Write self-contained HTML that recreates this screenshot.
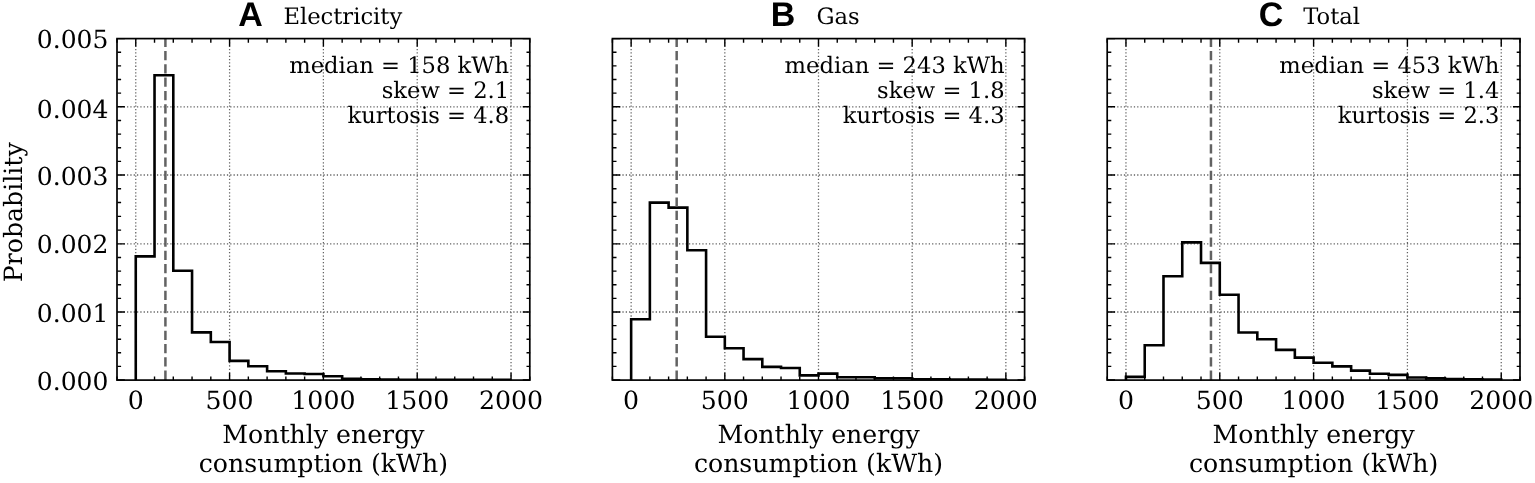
<!DOCTYPE html>
<html><head><meta charset="utf-8"><title>Monthly energy consumption histograms</title>
<style>
html,body{margin:0;padding:0;background:#fff;width:1535px;height:483px;overflow:hidden}
svg{display:block}
text{font-family:"DejaVu Serif","Liberation Serif",serif;fill:#000;text-rendering:geometricPrecision}
.lt{font-family:"Liberation Sans","DejaVu Sans",sans-serif;font-weight:bold}
</style></head><body>
<svg width="1535" height="483" viewBox="0 0 1535 483">
<rect width="1535" height="483" fill="#fff"/>
<defs>
<clipPath id="c0"><rect x="117" y="38.6" width="412.8" height="341.3"/></clipPath>
<clipPath id="c1"><rect x="612.4" y="38.6" width="412.2" height="341.3"/></clipPath>
<clipPath id="c2"><rect x="1107.2" y="38.6" width="412.8" height="341.3"/></clipPath>
</defs>
<g><path d="M135.76 379.9V38.6M229.58 379.9V38.6M323.4 379.9V38.6M417.22 379.9V38.6M511.04 379.9V38.6M117 312H529.8M117 243.9H529.8M117 175H529.8M117 106.8H529.8" fill="none" stroke="#000" stroke-opacity="0.62" stroke-width="1.26" stroke-dasharray="1.26 2.07" clip-path="url(#c0)"/>
<path d="M135.76 379.9V256.4H154.53V75.3H173.29V270.8H192.05V332.4H210.82V342H229.58V360.9H248.35V366.3H267.11V371.2H285.87V373.5H304.64V374H323.4V376.3H342.16V378.8H360.93V379.2H379.69V379.6H398.45V379.7H417.22V379.8H435.98V379.8H454.75V379.9H473.51V379.9H492.27V379.9H511.04V379.9" fill="none" stroke="#000" stroke-width="2.6" stroke-linejoin="miter" clip-path="url(#c0)"/>
<path d="M165.41 379.9V38.6" stroke="#626262" stroke-width="2.5" stroke-dasharray="9.3 4.02" fill="none" clip-path="url(#c0)"/>
<path d="M117 380.3v-3.7M117 39v3.7M135.76 380.3v-7.45M135.76 39v7.45M154.53 380.3v-3.7M154.53 39v3.7M173.29 380.3v-3.7M173.29 39v3.7M192.05 380.3v-3.7M192.05 39v3.7M210.82 380.3v-3.7M210.82 39v3.7M229.58 380.3v-7.45M229.58 39v7.45M248.35 380.3v-3.7M248.35 39v3.7M267.11 380.3v-3.7M267.11 39v3.7M285.87 380.3v-3.7M285.87 39v3.7M304.64 380.3v-3.7M304.64 39v3.7M323.4 380.3v-7.45M323.4 39v7.45M342.16 380.3v-3.7M342.16 39v3.7M360.93 380.3v-3.7M360.93 39v3.7M379.69 380.3v-3.7M379.69 39v3.7M398.45 380.3v-3.7M398.45 39v3.7M417.22 380.3v-7.45M417.22 39v7.45M435.98 380.3v-3.7M435.98 39v3.7M454.75 380.3v-3.7M454.75 39v3.7M473.51 380.3v-3.7M473.51 39v3.7M492.27 380.3v-3.7M492.27 39v3.7M511.04 380.3v-7.45M511.04 39v7.45M529.8 380.3v-3.7M529.8 39v3.7M117.4 379.95h7.45M530.2 379.95h-7.45M117.4 366.36h3.7M530.2 366.36h-3.7M117.4 352.77h3.7M530.2 352.77h-3.7M117.4 339.18h3.7M530.2 339.18h-3.7M117.4 325.59h3.7M530.2 325.59h-3.7M117.4 312h7.45M530.2 312h-7.45M117.4 298.38h3.7M530.2 298.38h-3.7M117.4 284.76h3.7M530.2 284.76h-3.7M117.4 271.14h3.7M530.2 271.14h-3.7M117.4 257.52h3.7M530.2 257.52h-3.7M117.4 243.9h7.45M530.2 243.9h-7.45M117.4 230.12h3.7M530.2 230.12h-3.7M117.4 216.34h3.7M530.2 216.34h-3.7M117.4 202.56h3.7M530.2 202.56h-3.7M117.4 188.78h3.7M530.2 188.78h-3.7M117.4 175h7.45M530.2 175h-7.45M117.4 161.36h3.7M530.2 161.36h-3.7M117.4 147.72h3.7M530.2 147.72h-3.7M117.4 134.08h3.7M530.2 134.08h-3.7M117.4 120.44h3.7M530.2 120.44h-3.7M117.4 106.8h7.45M530.2 106.8h-7.45M117.4 93.16h3.7M530.2 93.16h-3.7M117.4 79.52h3.7M530.2 79.52h-3.7M117.4 65.88h3.7M530.2 65.88h-3.7M117.4 52.24h3.7M530.2 52.24h-3.7M117.4 38.6h7.45M530.2 38.6h-7.45" stroke="#000" stroke-width="1.4" fill="none"/>
<rect x="117" y="38.6" width="412.8" height="341.5" fill="none" stroke="#000" stroke-width="1.7"/>
<text x="135.76" y="409.1" font-size="25.2" text-anchor="middle">0</text>
<text x="229.58" y="409.1" font-size="25.2" text-anchor="middle">500</text>
<text x="323.4" y="409.1" font-size="25.2" text-anchor="middle">1000</text>
<text x="417.22" y="409.1" font-size="25.2" text-anchor="middle">1500</text>
<text x="511.04" y="409.1" font-size="25.2" text-anchor="middle">2000</text>
<text x="323.4" y="443.2" font-size="25.2" text-anchor="middle">Monthly energy</text>
<text x="323.4" y="471.8" font-size="25.2" text-anchor="middle">consumption (kWh)</text>
<text x="509.2" y="73.2" font-size="22.65" text-anchor="end">median = 158 kWh</text>
<text x="509.2" y="98.2" font-size="22.65" text-anchor="end">skew = 2.1</text>
<text x="509.2" y="123.2" font-size="22.65" text-anchor="end">kurtosis = 4.8</text>
<text class="lt" x="238.3" y="26.2" font-size="34.0">A</text>
<text x="283.4" y="23.8" font-size="22.65">Electricity</text></g>
<g><path d="M631.14 379.9V38.6M724.82 379.9V38.6M818.5 379.9V38.6M912.18 379.9V38.6M1005.86 379.9V38.6M612.4 312H1024.6M612.4 243.9H1024.6M612.4 175H1024.6M612.4 106.8H1024.6" fill="none" stroke="#000" stroke-opacity="0.62" stroke-width="1.26" stroke-dasharray="1.26 2.07" clip-path="url(#c1)"/>
<path d="M631.14 379.9V319.2H649.87V202.6H668.61V207.6H687.35V250.3H706.08V336.7H724.82V348.2H743.55V359.1H762.29V366.9H781.03V368H799.76V375.4H818.5V373.6H837.24V377.2H855.97V377.2H874.71V378.2H893.45V378.3H912.18V379.3H930.92V379.3H949.65V379.5H968.39V379.6H987.13V379.7H1005.86V379.9" fill="none" stroke="#000" stroke-width="2.6" stroke-linejoin="miter" clip-path="url(#c1)"/>
<path d="M676.67 379.9V38.6" stroke="#626262" stroke-width="2.5" stroke-dasharray="9.3 4.02" fill="none" clip-path="url(#c1)"/>
<path d="M612.4 380.3v-3.7M612.4 39v3.7M631.14 380.3v-7.45M631.14 39v7.45M649.87 380.3v-3.7M649.87 39v3.7M668.61 380.3v-3.7M668.61 39v3.7M687.35 380.3v-3.7M687.35 39v3.7M706.08 380.3v-3.7M706.08 39v3.7M724.82 380.3v-7.45M724.82 39v7.45M743.55 380.3v-3.7M743.55 39v3.7M762.29 380.3v-3.7M762.29 39v3.7M781.03 380.3v-3.7M781.03 39v3.7M799.76 380.3v-3.7M799.76 39v3.7M818.5 380.3v-7.45M818.5 39v7.45M837.24 380.3v-3.7M837.24 39v3.7M855.97 380.3v-3.7M855.97 39v3.7M874.71 380.3v-3.7M874.71 39v3.7M893.45 380.3v-3.7M893.45 39v3.7M912.18 380.3v-7.45M912.18 39v7.45M930.92 380.3v-3.7M930.92 39v3.7M949.65 380.3v-3.7M949.65 39v3.7M968.39 380.3v-3.7M968.39 39v3.7M987.13 380.3v-3.7M987.13 39v3.7M1005.86 380.3v-7.45M1005.86 39v7.45M1024.6 380.3v-3.7M1024.6 39v3.7M612.8 379.95h7.45M1025 379.95h-7.45M612.8 366.36h3.7M1025 366.36h-3.7M612.8 352.77h3.7M1025 352.77h-3.7M612.8 339.18h3.7M1025 339.18h-3.7M612.8 325.59h3.7M1025 325.59h-3.7M612.8 312h7.45M1025 312h-7.45M612.8 298.38h3.7M1025 298.38h-3.7M612.8 284.76h3.7M1025 284.76h-3.7M612.8 271.14h3.7M1025 271.14h-3.7M612.8 257.52h3.7M1025 257.52h-3.7M612.8 243.9h7.45M1025 243.9h-7.45M612.8 230.12h3.7M1025 230.12h-3.7M612.8 216.34h3.7M1025 216.34h-3.7M612.8 202.56h3.7M1025 202.56h-3.7M612.8 188.78h3.7M1025 188.78h-3.7M612.8 175h7.45M1025 175h-7.45M612.8 161.36h3.7M1025 161.36h-3.7M612.8 147.72h3.7M1025 147.72h-3.7M612.8 134.08h3.7M1025 134.08h-3.7M612.8 120.44h3.7M1025 120.44h-3.7M612.8 106.8h7.45M1025 106.8h-7.45M612.8 93.16h3.7M1025 93.16h-3.7M612.8 79.52h3.7M1025 79.52h-3.7M612.8 65.88h3.7M1025 65.88h-3.7M612.8 52.24h3.7M1025 52.24h-3.7M612.8 38.6h7.45M1025 38.6h-7.45" stroke="#000" stroke-width="1.4" fill="none"/>
<rect x="612.4" y="38.6" width="412.2" height="341.5" fill="none" stroke="#000" stroke-width="1.7"/>
<text x="631.14" y="409.1" font-size="25.2" text-anchor="middle">0</text>
<text x="724.82" y="409.1" font-size="25.2" text-anchor="middle">500</text>
<text x="818.5" y="409.1" font-size="25.2" text-anchor="middle">1000</text>
<text x="912.18" y="409.1" font-size="25.2" text-anchor="middle">1500</text>
<text x="1005.86" y="409.1" font-size="25.2" text-anchor="middle">2000</text>
<text x="818.5" y="443.2" font-size="25.2" text-anchor="middle">Monthly energy</text>
<text x="818.5" y="471.8" font-size="25.2" text-anchor="middle">consumption (kWh)</text>
<text x="1004.57" y="73.2" font-size="22.65" text-anchor="end">median = 243 kWh</text>
<text x="1004.57" y="98.2" font-size="22.65" text-anchor="end">skew = 1.8</text>
<text x="1004.57" y="123.2" font-size="22.65" text-anchor="end">kurtosis = 4.3</text>
<text class="lt" x="770.8" y="26.2" font-size="34.0">B</text>
<text x="816.5" y="23.8" font-size="22.65">Gas</text></g>
<g><path d="M1125.96 379.9V38.6M1219.78 379.9V38.6M1313.6 379.9V38.6M1407.42 379.9V38.6M1501.24 379.9V38.6M1107.2 312H1520M1107.2 243.9H1520M1107.2 175H1520M1107.2 106.8H1520" fill="none" stroke="#000" stroke-opacity="0.62" stroke-width="1.26" stroke-dasharray="1.26 2.07" clip-path="url(#c2)"/>
<path d="M1125.96 379.9V376.9H1144.73V345.2H1163.49V276.3H1182.25V242.4H1201.02V262.9H1219.78V294.7H1238.55V332.5H1257.31V339.3H1276.07V349.9H1294.84V357.6H1313.6V362.7H1332.36V366.4H1351.13V370.6H1369.89V373.7H1388.65V374.9H1407.42V377.5H1426.18V378.4H1444.95V379.1H1463.71V379.3H1482.47V379.5H1501.24V379.9" fill="none" stroke="#000" stroke-width="2.6" stroke-linejoin="miter" clip-path="url(#c2)"/>
<path d="M1210.96 379.9V38.6" stroke="#626262" stroke-width="2.5" stroke-dasharray="9.3 4.02" fill="none" clip-path="url(#c2)"/>
<path d="M1107.2 380.3v-3.7M1107.2 39v3.7M1125.96 380.3v-7.45M1125.96 39v7.45M1144.73 380.3v-3.7M1144.73 39v3.7M1163.49 380.3v-3.7M1163.49 39v3.7M1182.25 380.3v-3.7M1182.25 39v3.7M1201.02 380.3v-3.7M1201.02 39v3.7M1219.78 380.3v-7.45M1219.78 39v7.45M1238.55 380.3v-3.7M1238.55 39v3.7M1257.31 380.3v-3.7M1257.31 39v3.7M1276.07 380.3v-3.7M1276.07 39v3.7M1294.84 380.3v-3.7M1294.84 39v3.7M1313.6 380.3v-7.45M1313.6 39v7.45M1332.36 380.3v-3.7M1332.36 39v3.7M1351.13 380.3v-3.7M1351.13 39v3.7M1369.89 380.3v-3.7M1369.89 39v3.7M1388.65 380.3v-3.7M1388.65 39v3.7M1407.42 380.3v-7.45M1407.42 39v7.45M1426.18 380.3v-3.7M1426.18 39v3.7M1444.95 380.3v-3.7M1444.95 39v3.7M1463.71 380.3v-3.7M1463.71 39v3.7M1482.47 380.3v-3.7M1482.47 39v3.7M1501.24 380.3v-7.45M1501.24 39v7.45M1520 380.3v-3.7M1520 39v3.7M1107.6 379.95h7.45M1520.4 379.95h-7.45M1107.6 366.36h3.7M1520.4 366.36h-3.7M1107.6 352.77h3.7M1520.4 352.77h-3.7M1107.6 339.18h3.7M1520.4 339.18h-3.7M1107.6 325.59h3.7M1520.4 325.59h-3.7M1107.6 312h7.45M1520.4 312h-7.45M1107.6 298.38h3.7M1520.4 298.38h-3.7M1107.6 284.76h3.7M1520.4 284.76h-3.7M1107.6 271.14h3.7M1520.4 271.14h-3.7M1107.6 257.52h3.7M1520.4 257.52h-3.7M1107.6 243.9h7.45M1520.4 243.9h-7.45M1107.6 230.12h3.7M1520.4 230.12h-3.7M1107.6 216.34h3.7M1520.4 216.34h-3.7M1107.6 202.56h3.7M1520.4 202.56h-3.7M1107.6 188.78h3.7M1520.4 188.78h-3.7M1107.6 175h7.45M1520.4 175h-7.45M1107.6 161.36h3.7M1520.4 161.36h-3.7M1107.6 147.72h3.7M1520.4 147.72h-3.7M1107.6 134.08h3.7M1520.4 134.08h-3.7M1107.6 120.44h3.7M1520.4 120.44h-3.7M1107.6 106.8h7.45M1520.4 106.8h-7.45M1107.6 93.16h3.7M1520.4 93.16h-3.7M1107.6 79.52h3.7M1520.4 79.52h-3.7M1107.6 65.88h3.7M1520.4 65.88h-3.7M1107.6 52.24h3.7M1520.4 52.24h-3.7M1107.6 38.6h7.45M1520.4 38.6h-7.45" stroke="#000" stroke-width="1.4" fill="none"/>
<rect x="1107.2" y="38.6" width="412.8" height="341.5" fill="none" stroke="#000" stroke-width="1.7"/>
<text x="1125.96" y="409.1" font-size="25.2" text-anchor="middle">0</text>
<text x="1219.78" y="409.1" font-size="25.2" text-anchor="middle">500</text>
<text x="1313.6" y="409.1" font-size="25.2" text-anchor="middle">1000</text>
<text x="1407.42" y="409.1" font-size="25.2" text-anchor="middle">1500</text>
<text x="1501.24" y="409.1" font-size="25.2" text-anchor="middle">2000</text>
<text x="1313.6" y="443.2" font-size="25.2" text-anchor="middle">Monthly energy</text>
<text x="1313.6" y="471.8" font-size="25.2" text-anchor="middle">consumption (kWh)</text>
<text x="1499.4" y="73.2" font-size="22.65" text-anchor="end">median = 453 kWh</text>
<text x="1499.4" y="98.2" font-size="22.65" text-anchor="end">skew = 1.4</text>
<text x="1499.4" y="123.2" font-size="22.65" text-anchor="end">kurtosis = 2.3</text>
<text class="lt" x="1258.7" y="26.2" font-size="34.0">C</text>
<text x="1303.2" y="23.8" font-size="22.65">Total</text></g>
<text x="108.4" y="390.2" font-size="25.0" text-anchor="end">0.000</text>
<text x="108.4" y="322.1" font-size="25.0" text-anchor="end">0.001</text>
<text x="108.4" y="253.2" font-size="25.0" text-anchor="end">0.002</text>
<text x="108.4" y="185" font-size="25.0" text-anchor="end">0.003</text>
<text x="108.4" y="117.5" font-size="25.0" text-anchor="end">0.004</text>
<text x="108.4" y="47.9" font-size="25.0" text-anchor="end">0.005</text>
<text transform="translate(22 212.3) rotate(-90)" font-size="25.2" text-anchor="middle">Probability</text>
</svg>
</body></html>
